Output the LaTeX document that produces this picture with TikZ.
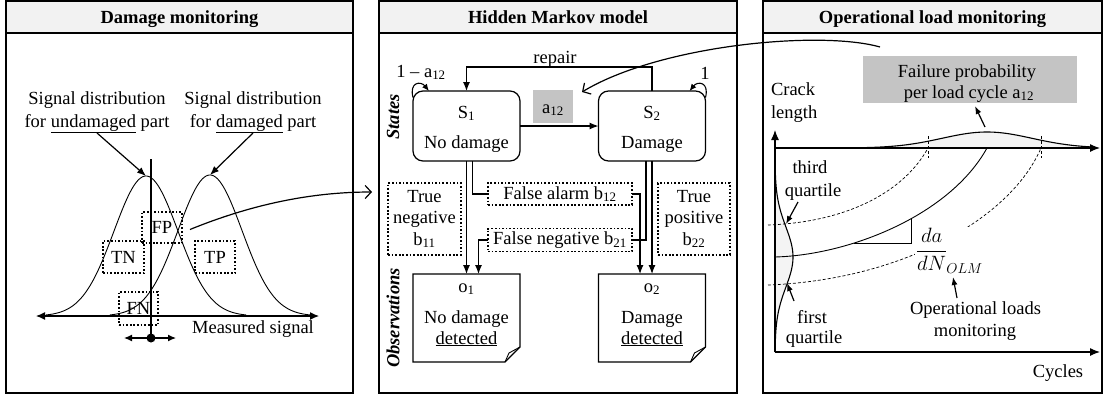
\documentclass[tikz,border=0pt]{standalone}
\usepackage{fontspec}
\setmainfont{Liberation Serif}
\usetikzlibrary{arrows.meta,calc}
\definecolor{headgray}{HTML}{F2F2F2}
\definecolor{boxgray}{HTML}{C4C4C4}
\definecolor{bellgray}{HTML}{F4F4F4}
\begin{document}
\begin{tikzpicture}[x=1pt,y=-1pt,
  every node/.style={font=\fontsize{18.5}{21.5}\selectfont, inner sep=0pt, outer sep=0pt},
  tb/.style={anchor=base},
  ttl/.style={anchor=base, font=\fontsize{18.5}{21.5}\selectfont\bfseries},
  sidelbl/.style={rotate=90, font=\fontsize{18.5}{21.5}\selectfont\bfseries\itshape},
  panelbox/.style={draw, line width=1.3pt},
  headbox/.style={draw, line width=1.3pt, fill=headgray},
  dotbox/.style={draw, line width=1.7pt, dash pattern=on 1.7pt off 1.9pt},
  arr/.style={line width=1.2pt, -{Latex[length=9pt,width=7pt]}},
  sarr/.style={line width=1.2pt, -{Latex[length=8pt,width=6pt]}},
  barb/.style={line width=1.2pt, -{Straight Barb[length=6pt,width=13pt]}},
  bellline/.style={line width=0.9pt},
  fdash/.style={line width=0.7pt, dash pattern=on 3pt off 2pt},
  statebox/.style={draw, line width=1.2pt, rounded corners=10pt, minimum width=107pt, minimum height=70pt},
  docnode/.style={minimum width=107pt, minimum height=88pt},
]
\useasboundingbox (0,0) rectangle (1104,397);

% ---------------- Left panel ----------------
\draw[headbox] (6,1) rectangle (353,33);
\draw[panelbox] (6,33) rectangle (353,393);
\node[ttl] (t1) at (179.5,23) {Damage monitoring};
\node[tb] (ud1) at (97,104) {Signal distribution};
\node[tb] (ud2) at (97,127) {for \underline{undamaged} part};
\node[tb] (dd1) at (253,104) {Signal distribution};
\node[tb] (dd2) at (253,127) {for \underline{damaged} part};
\coordinate (peakL) at (146,176);
\coordinate (peakR) at (210,175);
\draw[bellline] plot[domain=46:246,samples=120,variable=\t] (\t,{316-140*exp(-0.5*((\t-146)/32)*((\t-146)/32))});
\draw[bellline] plot[domain=110:310,samples=120,variable=\t] (\t,{316-141*exp(-0.5*((\t-210)/32)*((\t-210)/32))});
\draw[arr] (ud2.south) -- (peakL);
\draw[arr] (dd2.south) -- (peakR);
\coordinate (thr) at (151,338);
\coordinate (thrtop) at (151,159);
\draw[line width=1.2pt] (thrtop) -- (thr);
\coordinate (axl) at (36,316);
\coordinate (axr) at (319,316);
\draw[line width=1.2pt, {Latex[length=9pt,width=8pt]}-{Latex[length=9pt,width=8pt]}] (axl) -- (axr);
\draw[line width=1.2pt, {Latex[length=8pt,width=7pt]}-{Latex[length=8pt,width=7pt]}] ($(thr)+(-27,0)$) -- ($(thr)+(25,0)$);
\fill (thr) circle (4.5);
\node[dotbox, minimum width=40pt, minimum height=31pt] (fp) at (162,227.5) {FP};
\node[dotbox, minimum width=41pt, minimum height=32pt] (tn) at (123.5,257) {TN};
\node[dotbox, minimum width=40pt, minimum height=32pt] (tp) at (215,257) {TP};
\node[dotbox, minimum width=39pt, minimum height=33pt] (fnb) at (138.5,308.5) {FN};
\node[tb] (ms) at (253,333) {Measured signal};
\coordinate (hin) at (372,192);
\draw[barb] ($(fp.east)+(8,2)$) .. controls (250,205) and (310,192) .. (hin);

% ---------------- Middle panel ----------------
\draw[headbox] (379,1) rectangle (737,33);
\draw[panelbox] (379,33) rectangle (737,393);
\node[ttl] (t2) at (558,23) {Hidden Markov model};
\node[sidelbl] (states) at (393,117) {States};
\node[sidelbl] (obs) at (393,318) {Observations};

\node[statebox] (s1) at (466.5,126) {};
\node[tb] (s1a) at (466.5,118) {S\textsubscript{1}};
\node[tb] (s1b) at (466.5,148) {No damage};
\node[statebox] (s2) at (652,126) {};
\node[tb] (s2a) at (652,118) {S\textsubscript{2}};
\node[tb] (s2b) at (652,148) {Damage};

\node[fill=boxgray, minimum width=40pt, minimum height=33pt] (a12) at (553,106.5) {};
\node[tb] (a12t) at (553,113) {a\textsubscript{12}};
\draw[arr] (s1) -- (s2);
\draw[arr] (s2.north) -- ++(0,-24) -| (s1.north);
\node[tb] (rep) at (555,63) {repair};
\draw[line width=1.1pt, -{Latex[length=7pt,width=6pt]}] (s1.152) .. controls +(-4,-16) and +(-8,-10) .. (s1.137);
\draw[line width=1.1pt, -{Latex[length=7pt,width=6pt]}] (s2.28) .. controls +(4,-16) and +(8,-10) .. (s2.43);
\node[tb] (l1) at (421,77) {1 -- a\textsubscript{12}};
\node[tb] (l2) at (705,79) {1};

\node[dotbox, minimum width=73pt, minimum height=72pt, align=center, font=\fontsize{18.5}{21.5}\selectfont] (tnb) at (424.5,219) {True\\negative\\b\textsubscript{11}};
\node[dotbox, minimum width=72pt, minimum height=72pt, align=center, font=\fontsize{18.5}{21.5}\selectfont] (tpb) at (694,219) {True\\positive\\b\textsubscript{22}};
\node[dotbox, minimum width=144pt, minimum height=22pt] (fa) at (560,194) {False alarm b\textsubscript{12}};
\node[dotbox, minimum width=144pt, minimum height=23pt] (fn) at (560,240) {False negative b\textsubscript{21}};

\node[docnode] (o1) at (466.5,318) {};
\node[docnode] (o2) at (652,318) {};
\foreach \o in {o1,o2}{
  \draw[line width=1.2pt] (\o.north west) -- (\o.north east) -- ($(\o.south east)+(0,-15)$) -- ($(\o.south east)+(-15,0)$) -- (\o.south west) -- cycle;
  \draw[line width=0.9pt] ($(\o.south east)+(-15,0)$) -- ($(\o.south east)+(-11,-9)$) .. controls ($(\o.south east)+(-6,-12)$) .. ($(\o.south east)+(0,-15)$);
}
\node[tb] (o1a) at (466.5,292) {o\textsubscript{1}};
\node[tb] (o1b) at (466.5,323) {No damage};
\node[tb] (o1c) at (466.5,344) {\underline{detected}};
\node[tb] (o2a) at (652,292) {o\textsubscript{2}};
\node[tb] (o2b) at (652,323) {Damage};
\node[tb] (o2c) at (652,344) {\underline{detected}};

\draw[arr] (s1.south) -- (o1.north);
\draw[line width=1.2pt] ($(s1.south)+(6,0)$) |- (fa.west);
\draw[arr] (fa.east) -| ($(o2.north)+(-12,0)$);
\draw[line width=1.2pt] ($(s2.south)+(-6,0)$) |- (fn.east);
\draw[arr] (fn.west) -| ($(o1.north)+(12,0)$);
\draw[arr] (s2.south) -- (o2.north);

% ---------------- Right panel ----------------
\draw[headbox] (763,1) rectangle (1102,33);
\draw[panelbox] (763,33) rectangle (1102,393);
\node[ttl] (t3) at (932.5,23) {Operational load monitoring};
\node[fill=boxgray, minimum width=214pt, minimum height=47pt] (fail) at (970,79.5) {};
\node[tb] (f1) at (967,77) {Failure probability};
\node[tb] (f2) at (969,98) {per load cycle a\textsubscript{12}};
\node[anchor=base west] (cr1) at (771,95) {Crack};
\node[anchor=base west] (cr2) at (771,118) {length};

\coordinate (O) at (775,352);
\coordinate (ytop) at (775,130);
\coordinate (xend) at (1100,352);
\coordinate (ul0) at (775,148);
\coordinate (ul1) at (1100,148);
\fill[bellgray] plot[domain=862:1100,samples=100,variable=\t] (\t,{148-16*exp(-0.5*((\t-987)/45)*((\t-987)/45))}) -- cycle;
\fill[bellgray] plot[domain=150:352,samples=100,variable=\t] ({775+18*exp(-0.5*((\t-257)/30)*((\t-257)/30))},\t) -- cycle;
\draw[line width=1.2pt, -{Latex[length=10pt,width=8pt]}] (O) -- (ytop);
\draw[line width=1.2pt, -{Latex[length=10pt,width=8pt]}] (O) -- (xend);
\draw[line width=1.2pt, -{Latex[length=10pt,width=8pt]}] (ul0) -- (ul1);
\draw[line width=1.1pt] plot[domain=862:1095,samples=100,variable=\t] (\t,{148-16*exp(-0.5*((\t-987)/45)*((\t-987)/45))});
\draw[line width=1.1pt] plot[domain=165:352,samples=100,variable=\t] ({775+18*exp(-0.5*((\t-257)/30)*((\t-257)/30))},\t);
\draw[fdash] (928,136) -- (928,158);
\draw[fdash] (1041,136) -- (1041,158);
\draw[fdash] (768,225) .. controls (850,222) and (905,190) .. (928,148);
\draw[fdash] (768,285) .. controls (900,280) and (1010,220) .. (1041,148);
\draw[bellline] (775,257) .. controls (850,255) and (950,215) .. (987,148) coordinate[pos=0.33] (g1) coordinate[pos=0.57] (g2);
\draw[line width=1pt] (g1) -| (g2);
\node[fill=white, inner sep=1pt, anchor=base west, font=\fontsize{22}{26}\selectfont] (dadn) at (915,256.5) {$\displaystyle\frac{da}{dN}$\kern-1pt\raisebox{-17pt}{$\scriptstyle OLM$}};

\node[tb] (tq1) at (810,173) {third};
\node[tb] (tq2) at (813,196) {quartile};
\coordinate (tqs) at (798,202);
\coordinate (tqp) at (786,224);
\draw[sarr] (tqs) -- (tqp);
\node[tb] (fq1) at (812,323) {first};
\node[tb] (fq2) at (814,343) {quartile};
\coordinate (fqs) at (794,301);
\coordinate (fqp) at (787,283);
\draw[sarr] (fqs) -- (fqp);
\node[tb] (op1) at (975.5,314) {Operational loads};
\node[tb] (op2) at (975,336) {monitoring};
\coordinate (ops) at (957,298);
\coordinate (opp) at (953,277);
\draw[sarr] (ops) -- (opp);
\coordinate (fls) at (985,127);
\draw[sarr] (fls) -- ($(fail.south)+(5,3)$);
\node[tb] (cyc) at (1058,377) {Cycles};

% long curved arrow
\coordinate (olm) at (880,47);
\coordinate (a12in) at (582,92);
\draw[barb] (olm) .. controls (820,30) and (660,45) .. (a12in);
\end{tikzpicture}
\end{document}
